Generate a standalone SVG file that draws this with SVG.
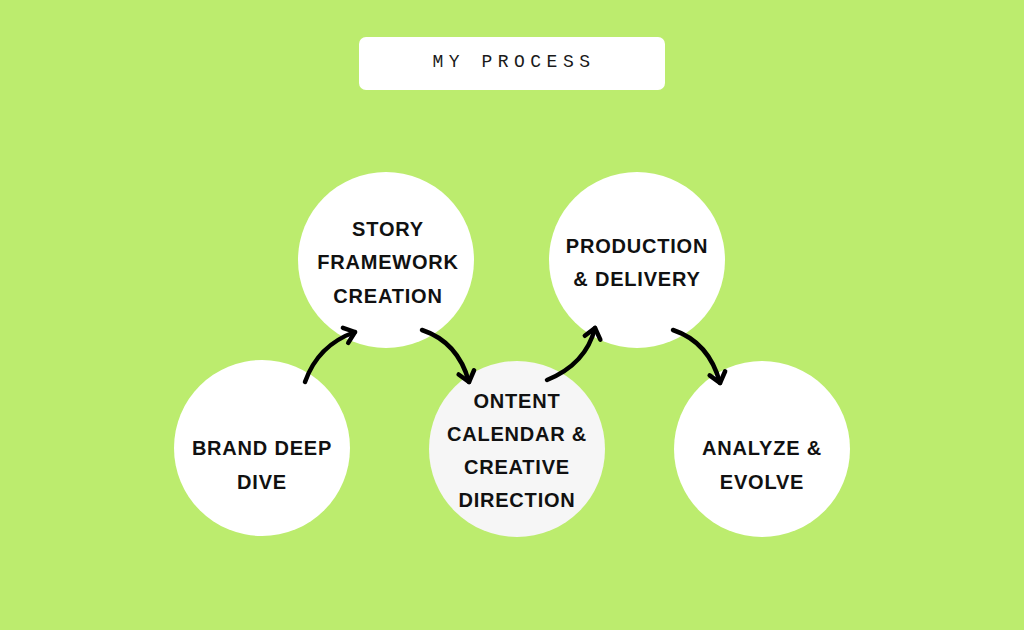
<svg xmlns="http://www.w3.org/2000/svg" width="1024" height="630" viewBox="0 0 1024 630">
<defs>
<style>
.node{fill:#ffffff}
.lbl{font-family:"Liberation Sans",Arial,sans-serif;font-weight:bold;font-size:20px;fill:#111111;text-anchor:middle;letter-spacing:0.8px}
.title{font-family:"Liberation Mono","Courier New",monospace;font-size:18px;fill:#1a1a1a;text-anchor:middle;letter-spacing:5.5px}
.conn{fill:none;stroke:#000000;stroke-width:4.5;stroke-linecap:round}
</style>
<marker id="chev" markerUnits="userSpaceOnUse" markerWidth="30" markerHeight="30" viewBox="-15 -15 30 30" refX="0" refY="0" orient="auto">
<path d="M-10,-8 L0,0 L-10,8" fill="none" stroke="#000000" stroke-width="4.5" stroke-linecap="round" stroke-linejoin="round"/>
</marker>
</defs>
<rect x="0" y="0" width="1024" height="630" fill="#bcec6e"/>
<g id="title">
<rect x="359" y="37" width="306" height="53" rx="7" fill="#ffffff"/>
<text class="title" x="514" y="67">MY PROCESS</text>
</g>
<g id="node-brand">
<circle class="node" cx="262" cy="448" r="88"/>
<text class="lbl" x="262" y="455">BRAND DEEP</text>
<text class="lbl" x="262" y="489">DIVE</text>
</g>
<g id="node-story">
<circle class="node" cx="386" cy="260" r="88"/>
<text class="lbl" x="388" y="236">STORY</text>
<text class="lbl" x="388" y="269">FRAMEWORK</text>
<text class="lbl" x="388" y="303">CREATION</text>
</g>
<g id="node-content">
<circle cx="517" cy="449" r="88" fill="#f6f6f6"/>
<text class="lbl" x="517" y="408">ONTENT</text>
<text class="lbl" x="517" y="441">CALENDAR &amp;</text>
<text class="lbl" x="517" y="474">CREATIVE</text>
<text class="lbl" x="517" y="507">DIRECTION</text>
</g>
<g id="node-production">
<circle class="node" cx="637" cy="260" r="88"/>
<text class="lbl" x="637" y="253">PRODUCTION</text>
<text class="lbl" x="637" y="286">&amp; DELIVERY</text>
</g>
<g id="node-analyze">
<circle class="node" cx="762" cy="449" r="88"/>
<text class="lbl" x="762" y="455">ANALYZE &amp;</text>
<text class="lbl" x="762" y="489">EVOLVE</text>
</g>
<g id="connectors">
<path class="conn" d="M305,382 Q318,345 355,332" marker-end="url(#chev)"/>
<path class="conn" d="M422,330 Q458,342 469,382" marker-end="url(#chev)"/>
<path class="conn" d="M547,380 Q586,364 595,328" marker-end="url(#chev)"/>
<path class="conn" d="M673,330 Q709,342 720,383" marker-end="url(#chev)"/>
</g>
</svg>
